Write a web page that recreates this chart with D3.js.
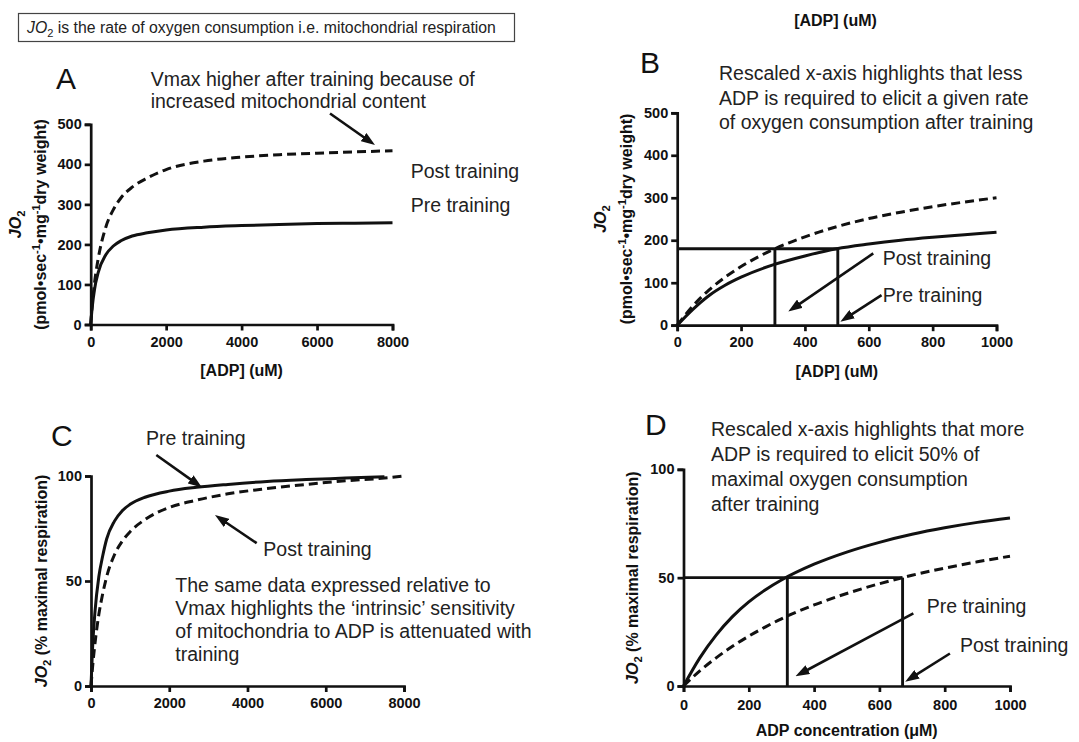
<!DOCTYPE html>
<html>
<head>
<meta charset="utf-8">
<script src="https://cdn.jsdelivr.net/npm/d3@7"></script>
<style>
  body { margin: 0; background: #fff; }
  svg text { font-family: "Liberation Sans", Arial, Helvetica, sans-serif; }
  .axis .domain, .axis .tick line { stroke: #111; stroke-width: 2.7; }
  .axis .tick text { font-weight: bold; font-size: 14.5px; fill: #111; }
</style>
</head>
<body>
<svg id="fig" width="1079" height="742"></svg>
<script>
// ---- Panel A: absolute JO2 vs [ADP], 0-8000 uM ----
const adpA  = [0, 40, 100, 200, 400, 600, 800, 1100, 1500, 2000, 3000, 4000, 5000, 6000, 7000, 8000];
const preA  = [0, 43, 87, 130, 174, 196, 209, 221, 229, 236, 243, 247, 250, 252, 253, 254];
const postA = [0, 48, 103, 165, 243, 287, 316, 343, 366, 387, 408, 418, 424, 428, 431, 434];
const xTicksA = [0, 2000, 4000, 6000, 8000];
const yTicksA = [0, 100, 200, 300, 400, 500];

// ---- Panel B: same data, 0-1000 uM ----
const adpB  = [0, 50, 100, 150, 200, 300, 400, 500, 600, 700, 800, 900, 1000];
const preB  = [0, 38, 70, 94, 113, 142, 163, 180, 191, 200, 207, 213, 219];
const postB = [0, 46, 83, 113, 138, 178, 208, 232, 251, 266, 279, 290, 300];
const refLevelB = 180;          // JO2 level marked by the guide lines
const refAdpB = [306, 503];     // ADP needed post / pre training
const xTicksB = [0, 200, 400, 600, 800, 1000];
const yTicksB = [0, 100, 200, 300, 400, 500];

// ---- Panel C: % of maximal respiration, 0-8000 uM ----
const adpCPre  = [0, 40, 100, 200, 300, 400, 600, 800, 1000, 1400, 2000, 2700, 3500, 4500, 5500, 6500, 7500];
const preC     = [0, 18, 35, 52, 62, 70, 78.5, 83.5, 86.5, 90, 92.8, 94.6, 96, 97.4, 98.3, 99, 99.7];
const adpCPost = [0, 40, 100, 200, 300, 400, 600, 800, 1000, 1400, 2000, 2700, 3500, 4500, 5500, 6500, 7500, 8000];
const postC    = [0, 9, 20, 34, 44, 52, 62.5, 69, 73.5, 79.5, 85, 88.5, 91.5, 94, 96, 97.7, 99, 100];
const xTicksC = [0, 2000, 4000, 6000, 8000];
const yTicksC = [0, 50, 100];

// ---- Panel D: % of maximal respiration, 0-1000 uM ----
const adpD  = [0, 50, 100, 150, 200, 250, 300, 400, 500, 600, 700, 800, 900, 1000];
const preD  = [0, 13, 23.5, 32, 38.8, 44.3, 48.9, 56.2, 61.8, 66.3, 70, 73, 75.5, 77.5];
const postD = [0, 7, 13, 18.3, 23, 27.2, 31, 37.4, 42.7, 47.2, 51.1, 54.4, 57.3, 59.9];
const refLevelD = 50;           // half-maximal respiration
const refAdpD = [318, 671];     // ADP needed pre / post training
const xTicksD = [0, 200, 400, 600, 800, 1000];
const yTicksD = [0, 50, 100];

// Annotation arrows, given as [from, to] in each panel's data units
const arrowA     = [[6344, 527], [7536, 448]];
const arrowPostB = [[614, 169], [348, 32]];
const arrowPreB  = [[640, 71], [511, 8]];
const arrowPreC  = [[1669, 110], [2837, 94.5]];
const arrowPostC = [[4235, 68], [3169, 81.4]];
const arrowPreD  = [[704, 33.5], [343, 4.5]];
const arrowPostD = [[816, 15], [679, 2]];

const svg = d3.select("#fig");
svg.append("rect").attr("width", 1079).attr("height", 742).attr("fill", "#fff");

// arrowhead
svg.append("defs").append("marker")
  .attr("id", "head").attr("viewBox", "0 0 14 10")
  .attr("refX", 6).attr("refY", 5)
  .attr("markerWidth", 14).attr("markerHeight", 10)
  .attr("markerUnits", "userSpaceOnUse").attr("orient", "auto")
  .append("path").attr("d", "M0,0 L14,5 L0,10 Z").attr("fill", "#111");

const INK = "#111";
const TXT = "#222";

function panel(o) {
  const x = d3.scaleLinear().domain(o.xDomain).range([o.left, o.right]);
  const y = d3.scaleLinear().domain(o.yDomain).range([o.bottom, o.top]);
  const g = svg.append("g");

  g.append("g").attr("class", "axis")
    .attr("transform", `translate(0,${o.bottom})`)
    .call(d3.axisBottom(x).tickValues(o.xTicks).tickSize(6).tickPadding(o.xPad).tickFormat(d3.format("d")));
  g.append("g").attr("class", "axis")
    .attr("transform", `translate(${o.left},0)`)
    .call(d3.axisLeft(y).tickValues(o.yTicks).tickSize(6).tickPadding(3).tickFormat(d3.format("d")));

  const line = d3.line().x(d => x(d[0])).y(d => y(d[1])).curve(d3.curveMonotoneX);
  o.series.forEach(s => {
    g.append("path")
      .attr("d", line(d3.zip(s.adp, s.val)))
      .attr("fill", "none").attr("stroke", INK).attr("stroke-width", 3)
      .attr("stroke-dasharray", s.dashed ? "9,5" : null);
  });

  if (o.ref) {
    const [a, b] = o.ref.adp;
    const lv = o.ref.level;
    const guides = [
      [[0, lv], [b, lv]],
      [[a, 0], [a, lv]],
      [[b, 0], [b, lv]]
    ];
    guides.forEach(s => g.append("line")
      .attr("x1", x(s[0][0])).attr("y1", y(s[0][1]))
      .attr("x2", x(s[1][0])).attr("y2", y(s[1][1]))
      .attr("stroke", INK).attr("stroke-width", 2.9));
  }

  (o.arrows || []).forEach(ar => {
    const x1 = x(ar[0][0]), y1 = y(ar[0][1]);
    const x2 = x(ar[1][0]), y2 = y(ar[1][1]);
    const len = Math.hypot(x2 - x1, y2 - y1);
    const k = (len - 8) / len;
    g.append("line")
      .attr("x1", x1).attr("y1", y1)
      .attr("x2", x1 + (x2 - x1) * k).attr("y2", y1 + (y2 - y1) * k)
      .attr("stroke", INK).attr("stroke-width", 2.6)
      .attr("marker-end", "url(#head)");
  });
  return { x, y, g };
}

// plain multi-line note
function note(x, y0, step, lines, size) {
  const t = svg.append("text").attr("x", x).attr("y", y0)
    .attr("font-size", size || 19.5).attr("fill", TXT);
  lines.forEach((l, i) => t.append("tspan").attr("x", x).attr("y", y0 + i * step).text(l));
  return t;
}

// "JO2" with italic JO and subscript 2
function jo2(t, size) {
  t.append("tspan").attr("font-style", "italic").text("JO");
  t.append("tspan").attr("font-size", size * 0.7).attr("dy", size * 0.25).text("2");
  return t.append("tspan").attr("dy", -size * 0.25);
}

// Rotated y-axis title
function yTitle(x, cy, size) {
  return svg.append("text")
    .attr("transform", `translate(${x},${cy}) rotate(-90)`)
    .attr("text-anchor", "middle").attr("font-weight", "bold")
    .attr("font-size", size).attr("fill", INK);
}

function unitsLine(x, cy) {
  const s = 16;
  const t = yTitle(x, cy, s);
  t.append("tspan").text("(pmol\u2022sec");
  t.append("tspan").attr("font-size", s * 0.7).attr("dy", -s * 0.4).text("-1");
  t.append("tspan").attr("dy", s * 0.4).text("\u2022mg");
  t.append("tspan").attr("font-size", s * 0.7).attr("dy", -s * 0.4).text("-1");
  t.append("tspan").attr("dy", s * 0.4).text("dry weight)");
}

// ---- header box ----
svg.append("rect").attr("x", 18.5).attr("y", 13.5).attr("width", 496).attr("height", 28)
  .attr("fill", "none").attr("stroke", "#444").attr("stroke-width", 1.2);
{
  const t = svg.append("text").attr("x", 27).attr("y", 33).attr("font-size", 15.8).attr("fill", TXT);
  jo2(t, 15.8).text(" is the rate of oxygen consumption i.e. mitochondrial respiration");
}
svg.append("text").attr("x", 835.5).attr("y", 26).attr("text-anchor", "middle")
  .attr("font-weight", "bold").attr("font-size", 16).attr("fill", INK).text("[ADP] (uM)");

// ---- Panel A ----
panel({
  left: 90.7, right: 392.5, bottom: 324.5, top: 124.3,
  xDomain: [0, 8000], yDomain: [0, 500], xTicks: xTicksA, yTicks: yTicksA, xPad: 6,
  series: [{ adp: adpA, val: preA }, { adp: adpA, val: postA, dashed: true }],
  arrows: [arrowA]
});
svg.append("text").attr("x", 56).attr("y", 89).attr("font-size", 30).attr("fill", INK).text("A");
note(150.7, 85.5, 22.5, ["Vmax higher after training because of", "increased mitochondrial content"]);
note(410.7, 177.5, 0, ["Post training"]);
note(410.7, 212, 0, ["Pre training"]);
svg.append("text").attr("x", 241.6).attr("y", 376).attr("text-anchor", "middle")
  .attr("font-weight", "bold").attr("font-size", 16).attr("fill", INK).text("[ADP] (uM)");
jo2(yTitle(21, 224.4, 16), 16);
unitsLine(46, 224.4);

// ---- Panel B ----
panel({
  left: 677.2, right: 996.5, bottom: 325.2, top: 112.8,
  xDomain: [0, 1000], yDomain: [0, 500], xTicks: xTicksB, yTicks: yTicksB, xPad: 6,
  series: [{ adp: adpB, val: preB }, { adp: adpB, val: postB, dashed: true }],
  ref: { level: refLevelB, adp: refAdpB },
  arrows: [arrowPostB, arrowPreB]
});
svg.append("text").attr("x", 640).attr("y", 73).attr("font-size", 30).attr("fill", INK).text("B");
note(719, 80, 24.5, ["Rescaled x-axis highlights that less",
  "ADP is required to elicit a given rate",
  "of oxygen consumption after training"]);
note(882.7, 265, 0, ["Post training"]);
note(882.7, 301.7, 0, ["Pre training"]);
svg.append("text").attr("x", 836.8).attr("y", 377).attr("text-anchor", "middle")
  .attr("font-weight", "bold").attr("font-size", 16).attr("fill", INK).text("[ADP] (uM)");
jo2(yTitle(606, 219, 16), 16);
unitsLine(632, 219);

// ---- Panel C ----
panel({
  left: 91, right: 404, bottom: 686, top: 476,
  xDomain: [0, 8000], yDomain: [0, 100], xTicks: xTicksC, yTicks: yTicksC, xPad: 6,
  series: [{ adp: adpCPre, val: preC }, { adp: adpCPost, val: postC, dashed: true }],
  arrows: [arrowPreC, arrowPostC]
});
svg.append("text").attr("x", 51).attr("y", 446).attr("font-size", 30).attr("fill", INK).text("C");
note(146, 445, 0, ["Pre training"]);
note(263.3, 555.5, 0, ["Post training"]);
note(175.3, 592.3, 22.9, ["The same data expressed relative to",
  "Vmax highlights the \u2018intrinsic\u2019 sensitivity",
  "of mitochondria to ADP is attenuated with",
  "training"]);
jo2(yTitle(47, 581, 16), 16).text(" (% maximal respiration)");

// ---- Panel D ----
panel({
  left: 683.5, right: 1010, bottom: 686, top: 469.3,
  xDomain: [0, 1000], yDomain: [0, 100], xTicks: xTicksD, yTicks: yTicksD, xPad: 8,
  series: [{ adp: adpD, val: preD }, { adp: adpD, val: postD, dashed: true }],
  ref: { level: refLevelD, adp: refAdpD },
  arrows: [arrowPreD, arrowPostD]
});
svg.append("text").attr("x", 645).attr("y", 435).attr("font-size", 30).attr("fill", INK).text("D");
note(711, 436, 25, ["Rescaled x-axis highlights that more",
  "ADP is required to elicit 50% of",
  "maximal oxygen consumption",
  "after training"]);
note(926.7, 613.3, 0, ["Pre training"]);
note(960, 651.7, 0, ["Post training"]);
svg.append("text").attr("x", 846.7).attr("y", 736).attr("text-anchor", "middle")
  .attr("font-weight", "bold").attr("font-size", 16).attr("fill", INK).text("ADP concentration (\u03bcM)");
jo2(yTitle(638, 577.7, 16), 16).text(" (% maximal respiration)");
</script>
</body>
</html>
